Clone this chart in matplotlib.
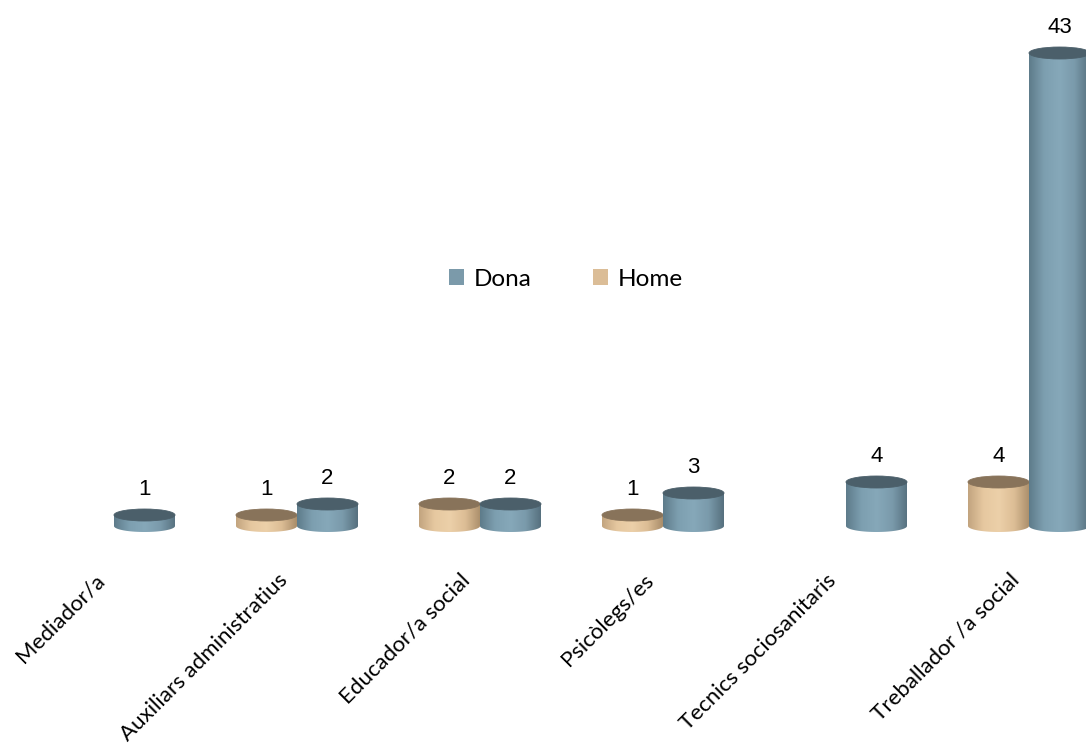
import numpy as np
import matplotlib
matplotlib.use("Agg")
from matplotlib import pyplot as plt
from matplotlib.path import Path
from matplotlib.patches import PathPatch, Ellipse, Patch
from matplotlib.colors import LinearSegmentedColormap

## data
categories = ["Mediador/a", "Auxiliars administratius", "Educador/a social",
              "Psicòlegs/es", "Tecnics sociosanitaris", "Treballador /a social"]
dona = [1, 2, 2, 3, 4, 43]
home = [None, 1, 2, 1, None, 4]

## styles
dona_cmap = LinearSegmentedColormap.from_list("dona", ["#5e7b8a", "#7d9fb0", "#86a8b9", "#7a9aab", "#56707e"])
home_cmap = LinearSegmentedColormap.from_list("home", ["#c2a47f", "#e6c8a0", "#ecd0a9", "#dcbd95", "#a98d6a"])
dona_top, home_top = "#4b5f6a", "#88735a"
dona_leg, home_leg = "#7b9aaa", "#dbbd97"

W = 1086; H = 756
fig = plt.figure(figsize=(W/100, H/100), dpi=100)
ax = fig.add_axes([0, 0, 1, 1])
ax.set_axis_off()

# pixel -> data scale
xpx = 183.      # px per category
ypx = 11.       # px per unit
x0px = 114.     # first group centre
y0px = 756 - 526.   # baseline (bottom ellipse centre) from bottom
bw = 61. / xpx
eh = 12. / ypx

grad = np.linspace(0, 1, 256).reshape(1, -1)


def cylinder(xc, v, cmap, topc, z):
    xa, xb = xc - bw/2, xc + bw/2
    t = np.linspace(np.pi, 2*np.pi, 60)
    arc = np.column_stack([xc + bw/2*np.cos(t), eh/2*np.sin(t)])
    verts = np.vstack([[xa, v], [xa, 0], arc, [xb, 0], [xb, v], [xa, v]])
    clip = PathPatch(Path(verts), facecolor='none', edgecolor='none', transform=ax.transData)
    ax.add_patch(clip)
    im = ax.imshow(grad, extent=[xa, xb, -eh/2, v], cmap=cmap, aspect='auto',
                   origin='lower', zorder=z, interpolation='bilinear')
    im.set_clip_path(clip)
    ax.add_patch(Ellipse((xc, v), bw, eh, facecolor=topc, edgecolor=topc,
                         linewidth=0.6, zorder=z + 0.1))
    ax.text(xc, v + eh/2 + 0.85, str(v), ha='center', va='bottom', fontsize=16,
            family='Liberation Sans', color='k', zorder=z + 0.2)


for i in range(len(categories)):
    if home[i] is not None:
        cylinder(i - bw/2, home[i], home_cmap, home_top, 2 + i)
    cylinder(i + bw/2, dona[i], dona_cmap, dona_top, 2.5 + i)
    ax.text(i - 20/xpx, -(570 - 526)/ypx, categories[i], rotation=45,
            rotation_mode='anchor', ha='right', va='top', fontsize=16,
            family='Lato', color='k')

ax.set_xlim(-x0px/xpx, (W - x0px)/xpx)
ax.set_ylim(-y0px/ypx, (H - y0px)/ypx)

handles = [Patch(facecolor=dona_leg, edgecolor='none'), Patch(facecolor=home_leg, edgecolor='none')]
leg = fig.legend(handles, ["Dona", "Home"], loc='center', bbox_to_anchor=(566/W, 1 - 279/H),
                 ncol=2, frameon=False, handlelength=0.62, handleheight=0.62,
                 columnspacing=2.5, handletextpad=0.4, prop={'family': 'Lato', 'size': 17.5})

fig.savefig("out.png", dpi=100)
